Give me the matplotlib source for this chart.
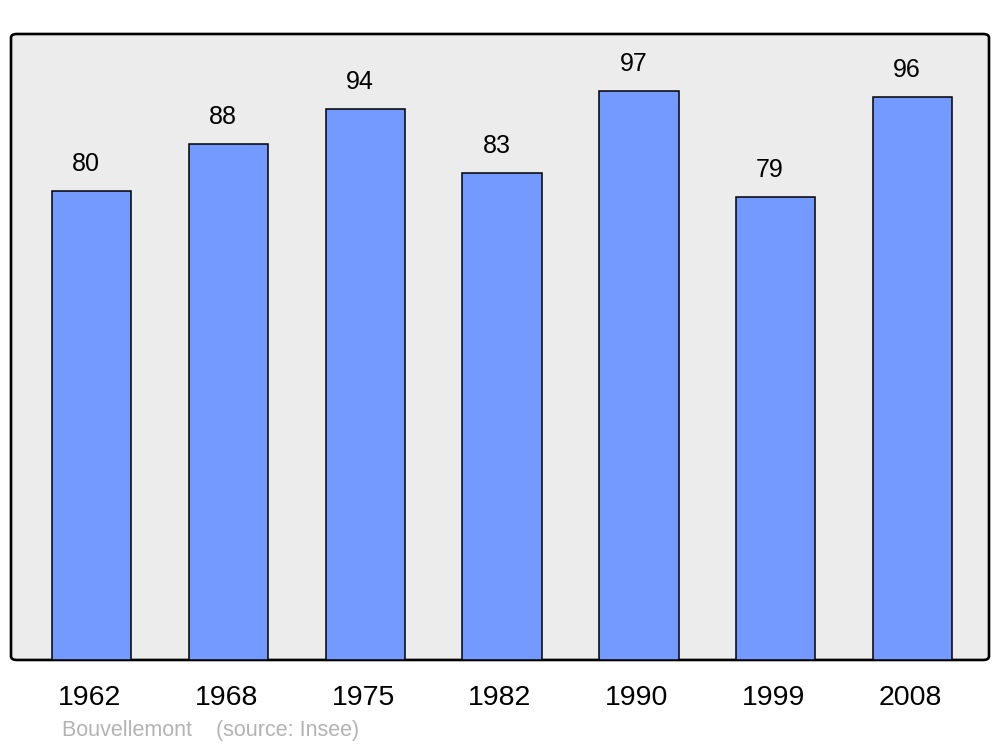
import numpy as np
import matplotlib.pyplot as plt
from matplotlib.patches import FancyBboxPatch

# population data (Bouvellemont)
years = ['1962', '1968', '1975', '1982', '1990', '1999', '2008']
population = [80, 88, 94, 83, 97, 79, 96]

plt.rcParams['font.family'] = ['Liberation Sans', 'DejaVu Sans']

fig = plt.figure(figsize=(10, 7.47), dpi=100)
ax = fig.add_axes([0.011, 0.1165, 0.978, 0.838])
ax.set_facecolor('none')

x = np.arange(len(years))
ax.bar(x, population, width=0.58, color='#7499ff', edgecolor='black',
       linewidth=1.1, zorder=2)

for xi, v in zip(x, population):
    ax.annotate(str(v), (xi, v), xytext=(-4, 11), textcoords='offset points',
                ha='center', va='bottom', fontsize=18, zorder=3)

ax.set_xlim(-0.59, 6.56)
ax.set_ylim(0, 106.8)
ax.set_xticks(x - 0.015)
ax.set_xticklabels(years, fontsize=20.5)
ax.tick_params(axis='x', length=0, pad=18)
ax.set_yticks([])
for s in ax.spines.values():
    s.set_visible(False)

# rounded frame
frame = FancyBboxPatch((0, 0), 1, 1, boxstyle='round,pad=0,rounding_size=0.006',
                       transform=ax.transAxes, facecolor='#ececec',
                       edgecolor='black', linewidth=1.9, zorder=0, clip_on=False)
ax.add_patch(frame)

fig.text(0.062, 0.008, 'Bouvellemont    (source: Insee)', color='#b3b3b3',
         fontsize=15.5, ha='left', va='bottom')

plt.savefig('out.png', dpi=100)
